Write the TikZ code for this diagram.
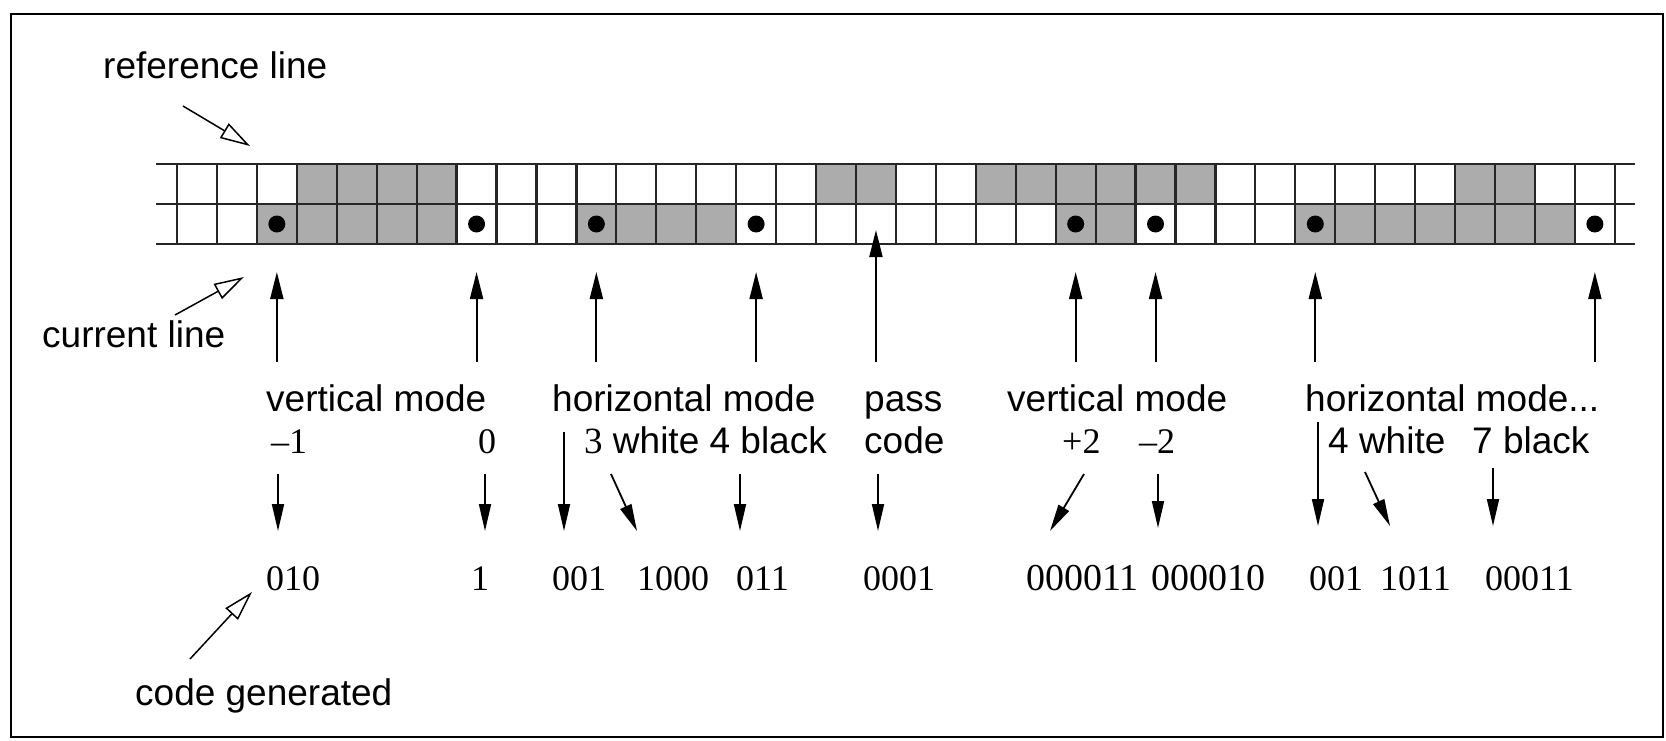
\documentclass[tikz,border=0pt]{standalone}
\usepackage{fontspec}
\setmainfont{Liberation Serif}
\setsansfont{Liberation Sans}
\usetikzlibrary{arrows.meta}
\definecolor{cellgray}{RGB}{172,172,172}
\begin{document}
\begin{tikzpicture}[x=1pt,y=-1pt,
  lab/.style={font=\sffamily\fontsize{37}{40}\selectfont, inner sep=0pt, anchor=base west},
  num/.style={font=\rmfamily\fontsize{36}{40}\selectfont, inner sep=0pt, anchor=base west},
  numwide/.style={num, font=\rmfamily\fontsize{38}{40}\selectfont},
  gridline/.style={line width=2.2pt, black!85},
  upar/.style={line width=2pt, -{Triangle[length=27pt,width=13pt]}},
  downar/.style={line width=1.8pt, -{Triangle[length=27pt,width=12pt]}},
  pointer/.style={line width=1.5pt, -{Triangle[open,length=30pt,width=17pt,line width=1.5pt]}},
  dot/.style={circle, fill=black, inner sep=0pt, minimum size=17pt}
]
\useasboundingbox (0,0) rectangle (1666,740);
\draw[line width=2pt] (11,14) rectangle (1663,737);

% cell geometry: 36 cells, two rows (reference line on top, current line below)
\def\cw{39.94}
\def\xo{177}
\foreach \c in {4,5,6,7,17,18,21,22,23,24,25,26,33,34}
  \fill[cellgray] ({\xo+(\c-1)*\cw},164) rectangle ({\xo+\c*\cw},204);
\foreach \c in {3,4,5,6,7,11,12,13,14,23,24,29,30,31,32,33,34,35}
  \fill[cellgray] ({\xo+(\c-1)*\cw},204) rectangle ({\xo+\c*\cw},244);
\foreach \y in {164,204,244}
  \draw[gridline] (156,\y) -- (1635,\y);
\foreach \k in {0,...,36}
  \draw[gridline] ({\xo+\k*\cw},164) -- ({\xo+\k*\cw},244);

% changing elements on the current line
\foreach \c in {3,8,11,15,23,25,29,36}
  \node[dot] (d\c) at ({\xo+(\c-0.5)*\cw},224) {};

% side labels with open pointers
\node[lab] (refl) at (103,78) {reference line};
\node[lab] (curl) at (42,347) {current line};
\node[lab] (codeg) at (135,705) {code generated};
\coordinate (refa) at (183,106);
\coordinate (refb) at (250,146);
\coordinate (cura) at (175,315);
\coordinate (curb) at (244,277);
\coordinate (coda) at (190,659);
\coordinate (codb) at (252,592);
\draw[pointer] (refa) -- (refb);
\draw[pointer] (cura) -- (curb);
\draw[pointer] (coda) -- (codb);

% arrows up to the coded positions
\foreach \c in {3,8,11,15,23,25,29,36} {
  \coordinate (ub\c) at ({\xo+(\c-0.5)*\cw},362);
  \coordinate (ut\c) at ({\xo+(\c-0.5)*\cw},272);
  \draw[upar] (ub\c) -- (ut\c);
}
\coordinate (ubp) at ({\xo+17.5*\cw},362);
\coordinate (utp) at ({\xo+17.5*\cw},230);
\draw[upar] (ubp) -- (utp);

% mode names
\node[lab] (m1) at (266,411) {vertical mode};
\node[lab] (m2) at (552,411) {horizontal mode};
\node[lab] (m3) at (864,411) {pass};
\node[lab] (m4) at (1007,411) {vertical mode};
\node[lab] (m5) at (1305,411) {horizontal mode...};

% mode parameters
\node[num] (p1) at (271,453) {\textendash1};
\node[num] (p2) at (478,453) {0};
\node[lab] (p3) at (584,453) {{\rmfamily 3} white 4 black};
\node[lab] (p4) at (864,453) {code};
\node[num] (p5) at (1062,453) {+2};
\node[num] (p6) at (1139,453) {\textendash2};
\node[lab] (p7) at (1328,453) {4 white};
\node[lab] (p8) at (1472,453) {7 black};

% generated codes
\node[num] (k1) at (266,590) {010};
\node[num] (k2) at (471,590) {1};
\node[num] (k3) at (552,590) {001};
\node[num] (k4) at (637,590) {1000};
\node[num] (k5) at (736,590) {011};
\node[num] (k6) at (863,590) {0001};
\node[numwide] (k7) at (1026,590) {000011};
\node[numwide] (k8) at (1151,590) {000010};
\node[num] (k9) at (1309,590) {001};
\node[num] (k10) at (1380,590) {1011};
\node[num] (k11) at (1485,590) {00011};

% arrows down to the codes
\coordinate (a1s) at (278,474);  \coordinate (a1e) at (278,531);
\coordinate (a2s) at (485,474);  \coordinate (a2e) at (485,531);
\coordinate (a3s) at (564,432);  \coordinate (a3e) at (564,531);
\coordinate (a4s) at (611,474);  \coordinate (a4e) at (637,531);
\coordinate (a5s) at (740,474);  \coordinate (a5e) at (740,531);
\coordinate (a6s) at (878,474);  \coordinate (a6e) at (878,531);
\coordinate (a7s) at (1084,474); \coordinate (a7e) at (1050,531);
\coordinate (a8s) at (1158,474); \coordinate (a8e) at (1158,528);
\coordinate (a9s) at (1318,422); \coordinate (a9e) at (1318,526);
\coordinate (a10s) at (1365,472); \coordinate (a10e) at (1390,526);
\coordinate (a11s) at (1493,468); \coordinate (a11e) at (1493,526);
\foreach \i in {1,...,11}
  \draw[downar] (a\i s) -- (a\i e);
\end{tikzpicture}
\end{document}
